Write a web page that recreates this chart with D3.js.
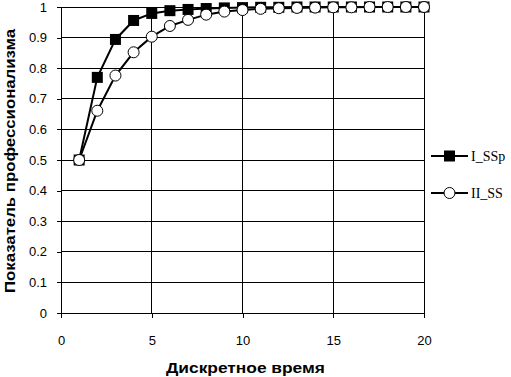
<!DOCTYPE html>
<html>
<head>
<meta charset="utf-8">
<script src="https://cdn.jsdelivr.net/npm/d3@7"></script>
<style>
  body { margin: 0; background: #fff; }
  svg { display: block; }
</style>
</head>
<body>
<div id="container"></div>
<script>
/* DATA */
const times = [1, 2, 3, 4, 5, 6, 7, 8, 9, 10, 11, 12, 13, 14, 15, 16, 17, 18, 19, 20];
const seriesNames = ["I_SSp", "II_SS"];
const valuesSSp = [0.5, 0.77, 0.894, 0.956, 0.979, 0.988, 0.992, 0.995, 0.997, 0.998, 0.999, 0.999, 1, 1, 1, 1, 1, 1, 1, 1];
const valuesSS = [0.5, 0.661, 0.776, 0.852, 0.903, 0.938, 0.958, 0.975, 0.985, 0.99, 0.994, 0.996, 0.997, 0.998, 0.999, 0.999, 1, 1, 1, 1];
const xTicks = [0, 5, 10, 15, 20];
const yTicks = [0, 0.1, 0.2, 0.3, 0.4, 0.5, 0.6, 0.7, 0.8, 0.9, 1];

/* CONSTANTS */
const width = 511, height = 377,
  margin = { top: 7, right: 87, bottom: 64, left: 61 };

const svg = d3.select("#container")
  .append("svg")
  .attr("width", width)
  .attr("height", height);

const x = d3.scaleLinear().domain([0, 20]).range([margin.left, width - margin.right]);
const y = d3.scaleLinear().domain([0, 1]).range([height - margin.bottom, margin.top]);

// grid
svg.append("g")
  .selectAll("line.hgrid")
  .data(yTicks)
  .join("line")
  .attr("x1", x(0)).attr("x2", x(20))
  .attr("y1", d => y(d)).attr("y2", d => y(d))
  .attr("stroke", "#000").attr("stroke-width", 1)
  .attr("shape-rendering", "crispEdges");

svg.append("g")
  .selectAll("line.vgrid")
  .data(xTicks)
  .join("line")
  .attr("x1", d => x(d)).attr("x2", d => x(d))
  .attr("y1", y(0)).attr("y2", y(1))
  .attr("stroke", "#000").attr("stroke-width", 1)
  .attr("shape-rendering", "crispEdges");

// axes
const yAxis = svg.append("g")
  .attr("transform", `translate(${x(0)},0)`)
  .call(d3.axisLeft(y).tickValues(yTicks).tickSize(4).tickPadding(10)
    .tickFormat(d => d === 0 || d === 1 ? d3.format("d")(d) : d3.format(".1f")(d)));
const xAxis = svg.append("g")
  .attr("transform", `translate(0,${y(0)})`)
  .call(d3.axisBottom(x).tickValues(xTicks).tickSize(5).tickPadding(18));

[xAxis, yAxis].forEach(a => {
  a.select(".domain").remove();
  a.selectAll("line").attr("stroke", "#000").attr("shape-rendering", "crispEdges");
  a.selectAll("text")
    .attr("fill", "#000")
    .attr("font-family", "Liberation Sans, Arial, sans-serif")
    .attr("font-size", 13);
});

// lines and markers
const series = [valuesSSp, valuesSS];
const lineGen = d3.line().x((d, i) => x(times[i])).y(d => y(d));

series.forEach(vals => {
  svg.append("path")
    .datum(vals)
    .attr("d", lineGen)
    .attr("fill", "none")
    .attr("stroke", "#000")
    .attr("stroke-width", 2);
});

svg.selectAll("rect.ssp")
  .data(valuesSSp)
  .join("rect")
  .attr("class", "ssp")
  .attr("x", (d, i) => x(times[i]) - 5.5)
  .attr("y", d => y(d) - 5.5)
  .attr("width", 11).attr("height", 11)
  .attr("fill", "#000");

svg.selectAll("circle.ss")
  .data(valuesSS)
  .join("circle")
  .attr("class", "ss")
  .attr("cx", (d, i) => x(times[i]))
  .attr("cy", d => y(d))
  .attr("r", 5.5)
  .attr("fill", "#fff")
  .attr("stroke", "#000")
  .attr("stroke-width", 1);

// legend
const legend = svg.append("g");
seriesNames.forEach((name, k) => {
  const ly = 156 + k * 37;
  legend.append("line")
    .attr("x1", 431).attr("x2", 468)
    .attr("y1", ly).attr("y2", ly)
    .attr("stroke", "#000").attr("stroke-width", 2);
  if (k === 0) {
    legend.append("rect")
      .attr("x", 444).attr("y", ly - 5.5)
      .attr("width", 11).attr("height", 11)
      .attr("fill", "#000");
  } else {
    legend.append("circle")
      .attr("cx", 449.5).attr("cy", ly).attr("r", 5.5)
      .attr("fill", "#fff").attr("stroke", "#000");
  }
  legend.append("text")
    .attr("x", 471).attr("y", ly)
    .attr("dy", "0.35em")
    .attr("font-family", "Liberation Serif, Times New Roman, serif")
    .attr("font-size", 14)
    .text(name);
});

// axis titles
svg.append("text")
  .attr("x", 166).attr("y", 373)
  .attr("textLength", 159)
  .attr("lengthAdjust", "spacingAndGlyphs")
  .attr("font-family", "Liberation Sans, Arial, sans-serif")
  .attr("font-weight", "bold")
  .attr("font-size", 15)
  .text("Дискретное время");

svg.append("text")
  .attr("transform", `translate(15,293) rotate(-90)`)
  .attr("textLength", 264)
  .attr("lengthAdjust", "spacingAndGlyphs")
  .attr("font-family", "Liberation Sans, Arial, sans-serif")
  .attr("font-weight", "bold")
  .attr("font-size", 15)
  .text("Показатель профессионализма");
</script>
</body>
</html>
